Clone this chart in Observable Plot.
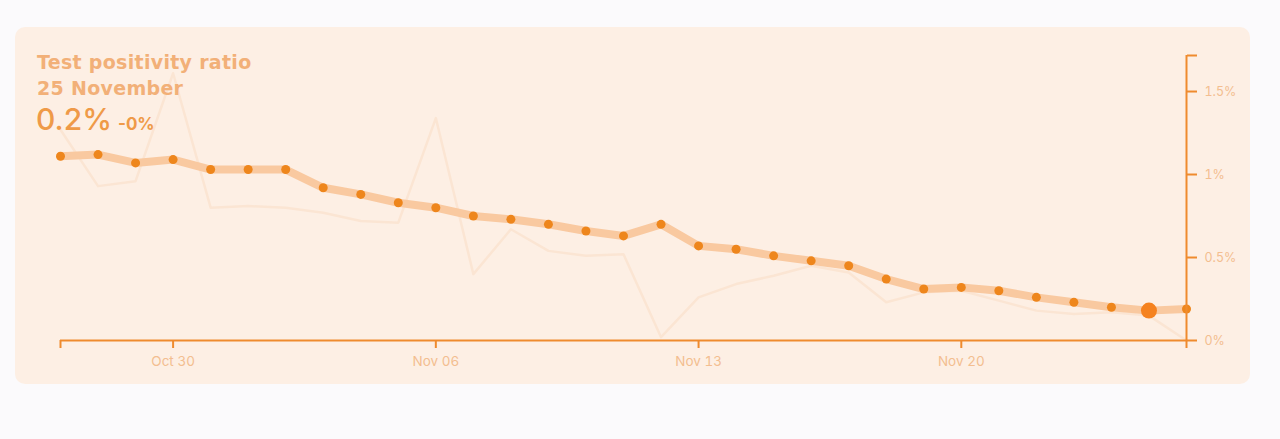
<!DOCTYPE html>
<html>
<head>
<meta charset="utf-8">
<script src="https://cdn.jsdelivr.net/npm/d3@7"></script>
<script src="https://cdn.jsdelivr.net/npm/@observablehq/plot@0.6"></script>
<style>
  html, body { margin: 0; padding: 0; background: #fbfafc; width: 1280px; height: 439px; overflow: hidden; font-family: Inter, "Noto Sans", sans-serif; }
  #card { position: absolute; left: 15px; top: 27px; width: 1235px; height: 357px; border-radius: 10px; background: #fdefe4; }
  #chart { position: absolute; left: 0; top: 0; }
  #title { position: absolute; left: 37px; top: 49px; color: #f2b078; font-family: "DejaVu Sans", sans-serif; font-weight: 700; font-size: 19px; line-height: 26px; letter-spacing: 0.3px; }
  #value { position: absolute; left: 36px; top: 101px; color: #ef9a48; white-space: nowrap; }
  #value .big { font-size: 30px; font-weight: 500; }
  #value .small { font-size: 17px; font-weight: 700; margin-left: 6px; }
</style>
</head>
<body>
<div id="card"></div>
<div id="chart"></div>
<div id="title">Test positivity ratio<br>25 November</div>
<div id="value"><span class="big">0.2%</span><span class="small">-0%</span></div>
<script>
const dates = [
  "2022-10-27","2022-10-28","2022-10-29","2022-10-30","2022-10-31",
  "2022-11-01","2022-11-02","2022-11-03","2022-11-04","2022-11-05","2022-11-06",
  "2022-11-07","2022-11-08","2022-11-09","2022-11-10","2022-11-11","2022-11-12",
  "2022-11-13","2022-11-14","2022-11-15","2022-11-16","2022-11-17","2022-11-18",
  "2022-11-19","2022-11-20","2022-11-21","2022-11-22","2022-11-23","2022-11-24",
  "2022-11-25","2022-11-26"
];
// 7-day average (main line), in %
const trend = [1.11,1.12,1.07,1.09,1.03,1.03,1.03,0.92,0.88,0.83,0.80,0.75,0.73,0.70,0.66,0.63,0.70,0.57,0.55,0.51,0.48,0.45,0.37,0.31,0.32,0.30,0.26,0.23,0.20,0.18,0.19];
// daily ratio (faint background line), in %
const daily = [1.27,0.93,0.96,1.61,0.80,0.81,0.80,0.77,0.72,0.71,1.34,0.40,0.67,0.54,0.51,0.52,0.02,0.26,0.34,0.39,0.45,0.41,0.23,0.29,0.30,0.24,0.18,0.16,0.17,0.15,0.00];
const xTicks = ["2022-10-27","2022-10-30","2022-11-06","2022-11-13","2022-11-20","2022-11-26"];
const xTickLabels = ["","Oct 30","Nov 06","Nov 13","Nov 20",""];
const yTicks = [0, 0.5, 1, 1.5, 1.717];
const yTickLabels = ["0%","0.5%","1%","1.5%",""];
const highlightDate = "2022-11-25";

const parse = d3.utcParse("%Y-%m-%d");
const rows = dates.map((d, i) => ({date: parse(d), trend: trend[i], daily: daily[i]}));
const hi = rows.filter(r => +r.date === +parse(highlightDate));
const xT = xTicks.map(parse);
const xLab = new Map(xT.map((d, i) => [+d, xTickLabels[i]]));
const yLab = new Map(yTicks.map((d, i) => [d, yTickLabels[i]]));

const AX = "#ef8b2e";
const LBL = "#f3be90";

const plot = Plot.plot({
  width: 1280,
  height: 439,
  marginLeft: 60,
  marginRight: 94,
  marginTop: 55,
  marginBottom: 99,
  style: {background: "transparent", fontFamily: "Inter, 'Noto Sans', sans-serif"},
  x: {type: "utc", domain: [parse(dates[0]), parse(dates[dates.length - 1])]},
  y: {domain: [0, 1.717]},
  marks: [
    Plot.line(rows, {x: "date", y: "daily", stroke: "#fbe5d3", strokeWidth: 2.5}),
    Plot.line(rows, {x: "date", y: "trend", stroke: "#f9c9a0", strokeWidth: 8, strokeLinejoin: "round", strokeLinecap: "round"}),
    Plot.dot(rows, {x: "date", y: "trend", r: 4.5, fill: "#ee861c"}),
    Plot.dot(hi, {x: "date", y: "trend", r: 8, fill: "#f5821f"}),
    Plot.ruleY([0], {stroke: AX, strokeWidth: 2}),
    Plot.ruleX([parse(dates[dates.length - 1])], {stroke: AX, strokeWidth: 2}),
    Plot.axisX({ticks: xT, tickSize: 8, tickPadding: 8, stroke: AX, strokeWidth: 2, fill: LBL, fontSize: 13.5, tickFormat: d => xLab.get(+d) ?? ""}),
    Plot.axisY({anchor: "right", ticks: yTicks, tickSize: 10, tickPadding: 8, stroke: AX, strokeWidth: 2, fill: LBL, fontSize: 12.5, tickFormat: d => yLab.get(d) ?? ""})
  ]
});
document.getElementById("chart").appendChild(plot);
</script>
</body>
</html>
